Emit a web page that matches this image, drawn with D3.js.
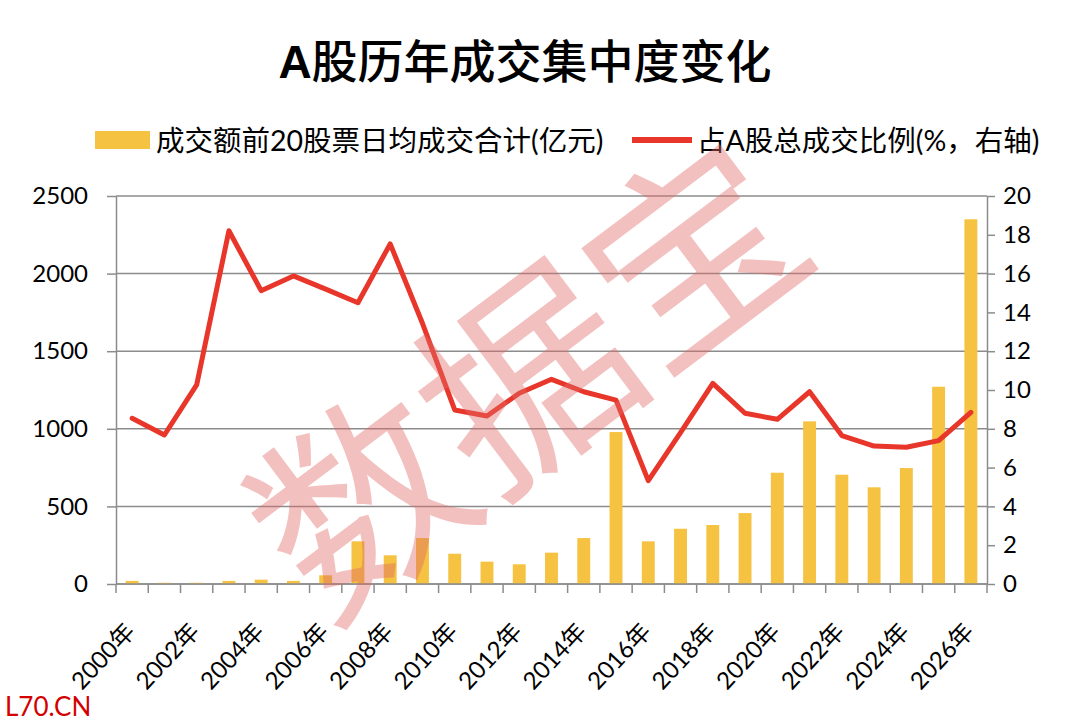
<!DOCTYPE html>
<html>
<head>
<meta charset="utf-8">
<script src="https://cdn.jsdelivr.net/npm/d3@7"></script>
<style>
  body { margin: 0; background: #fff; }
  svg { display: block; }
  text { font-family: Lato, "Noto Sans CJK SC", sans-serif; }
</style>
</head>
<body>
<svg id="chart" width="1080" height="727"></svg>
<script>
const years = d3.range(2000, 2027).map((y) => y + "年");
const turnoverTop20 = [20, 8, 8, 20, 28, 20, 56, 275, 185, 296, 195, 144, 127, 202, 296, 979, 275, 356, 380, 457, 717, 1048, 704, 623, 747, 1271, 2350];
const shareOfTotal = [8.54, 7.68, 10.26, 18.21, 15.12, 15.88, 15.2, 14.5, 17.53, 13.44, 8.97, 8.66, 9.83, 10.55, 9.91, 9.48, 5.33, 7.8, 10.34, 8.8, 8.49, 9.91, 7.65, 7.11, 7.05, 7.39, 8.85];
const leftTicks = [0, 500, 1000, 1500, 2000, 2500];
const rightTicks = [0, 2, 4, 6, 8, 10, 12, 14, 16, 18, 20];

const svg = d3.select("#chart");
const margin = { left: 116, right: 1080 - 987, top: 196, bottom: 727 - 584 };
const W = 1080, H = 727;
const barColor = "#f5c242";
const lineColor = "#e8372a";
const gridColor = "#8c8c8c";

const x = d3.scaleBand().domain(years).range([margin.left, W - margin.right]).paddingInner(0.6).paddingOuter(0.3);
const xb = d3.scaleBand().domain(years).range([margin.left, W - margin.right]);
const yL = d3.scaleLinear().domain([0, 2500]).range([H - margin.bottom, margin.top]);
const yR = d3.scaleLinear().domain([0, 20]).range([H - margin.bottom, margin.top]);

// title: bold latin, regular CJK
const title = svg.append("text")
  .attr("x", 525).attr("y", 78)
  .attr("text-anchor", "middle")
  .attr("font-size", 46);
title.append("tspan").attr("font-weight", "bold").attr("font-family", "'Liberation Sans', Arial, sans-serif").text("A");
title.append("tspan").attr("font-family", "'Noto Sans CJK SC', sans-serif").attr("font-weight", 500).text("股历年成交集中度变化");

// legend
const lg = svg.append("g").attr("font-size", 28.5);
lg.append("rect").attr("x", 95).attr("y", 131).attr("width", 55).attr("height", 18).attr("fill", barColor);
lg.append("text").attr("x", 156).attr("y", 151).text("成交额前20股票日均成交合计(亿元)");
lg.append("line").attr("x1", 632).attr("x2", 692).attr("y1", 140).attr("y2", 140)
  .attr("stroke", lineColor).attr("stroke-width", 6);
lg.append("text").attr("x", 697).attr("y", 151).text("占A股总成交比例(%，右轴)");

// gridlines
svg.append("g")
  .selectAll("line")
  .data(leftTicks)
  .join("line")
  .attr("x1", margin.left).attr("x2", W - margin.right)
  .attr("y1", (d) => yL(d)).attr("y2", (d) => yL(d))
  .attr("stroke", gridColor).attr("stroke-width", 1.5);

// left axis
const axL = svg.append("g").attr("transform", `translate(${margin.left},0)`)
  .call(d3.axisLeft(yL).tickValues(leftTicks).tickFormat(d3.format("d")).tickSize(9).tickSizeOuter(0).tickPadding(19));
axL.selectAll("text").attr("font-size", 24).attr("fill", "#000");
axL.selectAll("line").attr("stroke", gridColor).attr("stroke-width", 1.5);
axL.select(".domain").attr("stroke", gridColor).attr("stroke-width", 1.5);

// right axis
const axR = svg.append("g").attr("transform", `translate(${W - margin.right},0)`)
  .call(d3.axisRight(yR).tickValues(rightTicks).tickSize(8).tickSizeOuter(0).tickPadding(8));
axR.selectAll("text").attr("font-size", 24).attr("fill", "#000");
axR.selectAll("line").attr("stroke", gridColor).attr("stroke-width", 1.5);
axR.select(".domain").attr("stroke", gridColor).attr("stroke-width", 1.5);

// bottom axis: ticks at category boundaries
const bottom = H - margin.bottom;
const boundaries = years.map((d) => xb(d)).concat([W - margin.right]);
svg.append("g")
  .selectAll("line")
  .data(boundaries)
  .join("line")
  .attr("x1", (d) => d).attr("x2", (d) => d)
  .attr("y1", bottom).attr("y2", bottom + 9)
  .attr("stroke", gridColor).attr("stroke-width", 1.5);

// bars
svg.append("g")
  .selectAll("rect")
  .data(turnoverTop20)
  .join("rect")
  .attr("x", (d, i) => x(years[i]))
  .attr("width", x.bandwidth())
  .attr("y", (d) => yL(d))
  .attr("height", (d) => bottom - yL(d))
  .attr("fill", barColor);

svg.append("line")
  .attr("x1", margin.left).attr("x2", W - margin.right)
  .attr("y1", bottom).attr("y2", bottom)
  .attr("stroke", gridColor).attr("stroke-width", 1.5);

// line
const line = d3.line()
  .x((d, i) => xb(years[i]) + xb.bandwidth() / 2)
  .y((d) => yR(d));
svg.append("path")
  .datum(shareOfTotal)
  .attr("d", line)
  .attr("fill", "none")
  .attr("stroke", lineColor)
  .attr("stroke-width", 5)
  .attr("stroke-linejoin", "round")
  .attr("stroke-linecap", "round");

// x labels every other year
svg.append("g")
  .selectAll("text")
  .data(years.filter((d, i) => i % 2 === 0))
  .join("text")
  .attr("transform", (d) => `translate(${xb(d) + xb.bandwidth() / 2 - 2},${bottom + 43}) rotate(-47)`)
  .attr("text-anchor", "end")
  .attr("dy", "0.35em")
  .attr("font-size", 24)
  .text((d) => d);

// watermark
svg.append("text")
  .attr("transform", "translate(530,382) rotate(-37)")
  .attr("text-anchor", "middle")
  .attr("dy", "0.35em")
  .attr("font-size", 208)
  .attr("font-family", "'Noto Sans CJK SC', sans-serif")
  .attr("font-weight", 400)
  .attr("fill", "#e06a66")
  .attr("fill-opacity", 0.42)
  .text("数据宝");

// source mark
svg.append("text")
  .attr("x", 5).attr("y", 716)
  .attr("font-family", "'Liberation Sans', Arial, sans-serif")
  .attr("font-size", 26)
  .attr("fill", "#d40000")
  .text("L70.CN");
</script>
</body>
</html>
